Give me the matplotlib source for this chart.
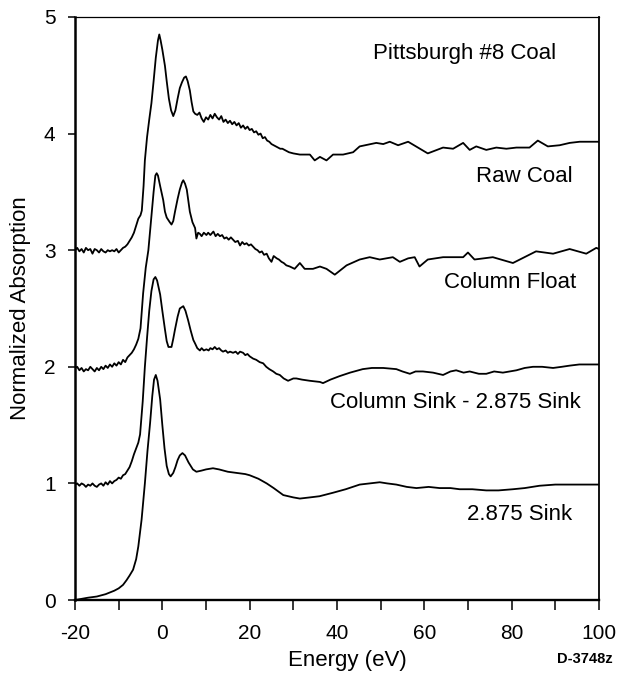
import matplotlib
matplotlib.use('Agg')
import matplotlib.pyplot as plt
from matplotlib.ticker import MultipleLocator

plt.rcParams['font.family'] = ['Liberation Sans', 'DejaVu Sans']
plt.rcParams['axes.unicode_minus'] = False

# Raw Coal (offset +3)
raw_x = [-20, -19.5, -19, -18.5, -18, -17.5, -17, -16.5, -16, -15.5, -15, -14.5, -14, -13.5,
         -13, -12.5, -12, -11.5, -11, -10.5, -10, -9.5, -9, -8.5, -8, -7.5, -7, -6.5, -6,
         -5.5, -5, -4.7, -4.3, -4.0, -3.5, -3.0, -2.5, -2.0, -1.5, -1.0, -0.7, -0.4, 0.0,
         0.6, 1.0, 1.5, 2.0, 2.5, 3.0, 3.5, 4.0, 4.5, 5.0, 5.4, 5.8, 6.3, 6.7, 7.1, 7.5,
         8.0, 8.5, 9.0, 9.5, 10.0, 10.5, 11.0, 11.5, 12.0, 12.5, 13.0, 13.5, 14.0, 14.5,
         15.0, 15.5, 16.0, 16.5, 17.0, 17.5, 18.0, 18.5, 19.0, 19.5, 20.0, 20.5, 21.0,
         21.5, 22.0, 22.5, 23.0, 23.5, 24.0, 24.5, 25.0, 25.5, 26.0, 26.5, 27.0, 27.5,
         28.0, 28.5, 29.0, 30.0, 31.5, 33.8, 34.9, 36.1, 37.6, 39.1, 41.4, 43.7, 45.2,
         49.0, 50.6, 52.1, 54.0, 56.3, 60.8, 64.3, 66.6, 68.9, 70.4, 71.9, 74.2, 76.5,
         78.8, 81.1, 84.1, 86.0, 88.3, 91.0, 93.3, 95.6, 97.8, 100]
raw_y = [3.00, 3.02, 2.99, 3.01, 2.98, 3.02, 3.00, 3.01, 2.97, 3.01, 3.00, 2.98, 3.01, 2.99,
         2.98, 3.00, 2.99, 3.00, 2.99, 3.01, 2.98, 3.00, 3.02, 3.03, 3.05, 3.08, 3.11, 3.15,
         3.21, 3.27, 3.30, 3.34, 3.55, 3.77, 3.97, 4.12, 4.26, 4.45, 4.65, 4.80, 4.85, 4.80,
         4.72, 4.58, 4.45, 4.30, 4.20, 4.15, 4.20, 4.30, 4.39, 4.44, 4.48, 4.49, 4.45, 4.37,
         4.27, 4.19, 4.17, 4.16, 4.18, 4.13, 4.10, 4.14, 4.12, 4.16, 4.13, 4.17, 4.14, 4.12,
         4.15, 4.10, 4.12, 4.09, 4.11, 4.08, 4.10, 4.07, 4.09, 4.05, 4.07, 4.04, 4.06, 4.03,
         4.04, 4.01, 4.02, 3.99, 4.00, 3.96, 3.97, 3.94, 3.93, 3.91, 3.90, 3.89, 3.88, 3.87,
         3.87, 3.86, 3.85, 3.84, 3.83, 3.82, 3.82, 3.77, 3.80, 3.77, 3.82, 3.82, 3.84, 3.89,
         3.92, 3.91, 3.93, 3.90, 3.93, 3.83, 3.88, 3.87, 3.92, 3.86, 3.89, 3.86, 3.88, 3.87,
         3.88, 3.88, 3.94, 3.89, 3.90, 3.92, 3.93, 3.93, 3.93]

# Column Float (offset +2)
float_x = [-20, -19.5, -19, -18.5, -18, -17.5, -17, -16.5, -16, -15.5, -15, -14.5, -14,
           -13.5, -13, -12.5, -12, -11.5, -11, -10.5, -10, -9.5, -9, -8.5, -8, -7.5, -7,
           -6.5, -6, -5.5, -5, -4.4, -3.8, -3.2, -2.6, -2.0, -1.6, -1.3, -1.0, -0.5, 0.2,
           0.6, 1.0, 1.35, 1.7, 2.1, 2.5, 2.9, 3.5, 4.0, 4.5, 4.8, 5.2, 5.6, 6.3, 6.9, 7.5,
           7.8, 8.2, 8.6, 9.0, 9.5, 10.1, 10.5, 11.0, 11.7, 12.2, 12.7, 13.2, 13.7, 14.2,
           14.7, 15.2, 15.7, 16.2, 16.7, 17.3, 17.8, 18.3, 18.8, 19.3, 19.8, 20.3, 20.8,
           21.3, 21.8, 22.3, 22.8, 23.3, 23.9, 24.4, 25.0, 25.5, 26.2, 26.7, 27.3, 27.8,
           28.4, 29.2, 30.3, 31.5, 32.6, 34.5, 36.1, 37.6, 39.5, 42.2, 45.2, 47.5, 49.8,
           52.8, 54.4, 56.3, 57.8, 58.9, 60.8, 64.3, 68.9, 70.0, 71.5, 75.7, 80.3, 85.6,
           89.5, 93.3, 97.1, 99.4, 100]
float_y = [1.99, 2.00, 1.97, 1.99, 1.96, 1.98, 1.97, 2.00, 1.98, 1.96, 1.99, 1.97, 2.00,
           1.98, 2.01, 1.99, 2.02, 2.00, 2.03, 2.01, 2.04, 2.02, 2.06, 2.04, 2.08, 2.10,
           2.12, 2.15, 2.19, 2.24, 2.33, 2.63, 2.85, 3.00, 3.25, 3.50, 3.64, 3.66, 3.64,
           3.55, 3.43, 3.33, 3.28, 3.26, 3.24, 3.22, 3.25, 3.33, 3.44, 3.52, 3.58, 3.60,
           3.57, 3.52, 3.33, 3.24, 3.19, 3.10, 3.15, 3.14, 3.12, 3.15, 3.13, 3.15, 3.13,
           3.16, 3.12, 3.14, 3.12, 3.13, 3.10, 3.11, 3.09, 3.11, 3.09, 3.07, 3.08, 3.04,
           3.07, 3.05, 3.06, 3.04, 3.05, 3.03, 3.01, 3.00, 2.98, 2.99, 2.96, 2.97, 2.93,
           2.90, 2.95, 2.93, 2.92, 2.90, 2.89, 2.87, 2.86, 2.84, 2.89, 2.84, 2.84, 2.86,
           2.84, 2.79, 2.87, 2.92, 2.94, 2.92, 2.94, 2.90, 2.93, 2.94, 2.86, 2.92, 2.94,
           2.94, 2.98, 2.92, 2.94, 2.89, 2.99, 2.97, 3.01, 2.97, 3.02, 3.01]

# Column Sink - 2.875 Sink (offset +1)
csink_x = [-20, -19.5, -19, -18.5, -18, -17.5, -17, -16.5, -16, -15.5, -15, -14.5, -14,
           -13.5, -13, -12.5, -12, -11.5, -11, -10.5, -10, -9.5, -9, -8.5, -8, -7.5, -7,
           -6.5, -6, -5.5, -5.1, -4.5, -4.0, -3.5, -3.0, -2.5, -2.0, -1.6, -1.2, -0.5, 0.0,
           0.6, 1.0, 1.4, 2.1, 2.5, 2.9, 3.5, 4.0, 4.8, 5.3, 5.9, 6.5, 7.1, 7.5, 8.0, 8.6,
           9.0, 9.5, 10.1, 10.6, 11.0, 11.5, 12.0, 12.5, 13.0, 13.5, 13.9, 14.5, 15.0, 15.5,
           16.2, 16.8, 17.3, 17.8, 18.5, 19.0, 19.5, 20.0, 20.8, 21.5, 22.3, 23.1, 23.8,
           24.5, 25.4, 26.1, 26.9, 27.8, 28.8, 30.0, 30.7, 32.0, 33.8, 36.1, 36.8, 38.5,
           40.6, 43.0, 45.9, 48.0, 50.6, 53.6, 55.0, 56.7, 58.0, 59.7, 62.0, 64.3, 66.0,
           67.3, 69.0, 70.4, 72.5, 74.2, 76.0, 78.0, 81.1, 83.0, 84.9, 87.0, 89.5, 91.5,
           93.3, 95.5, 97.8, 100]
csink_y = [0.99, 1.00, 0.98, 1.00, 0.99, 0.97, 0.99, 0.98, 1.00, 0.98, 0.97, 0.99, 1.00,
           0.98, 1.01, 0.99, 1.02, 1.00, 1.02, 1.03, 1.05, 1.04, 1.07, 1.08, 1.11, 1.14,
           1.19, 1.25, 1.30, 1.35, 1.42, 1.70, 2.00, 2.25, 2.48, 2.65, 2.75, 2.77, 2.74,
           2.62, 2.48, 2.32, 2.22, 2.17, 2.17, 2.24, 2.32, 2.43, 2.50, 2.52, 2.48, 2.40,
           2.31, 2.23, 2.20, 2.16, 2.14, 2.16, 2.14, 2.15, 2.14, 2.16, 2.15, 2.17, 2.15,
           2.16, 2.14, 2.13, 2.14, 2.12, 2.13, 2.12, 2.13, 2.11, 2.13, 2.12, 2.10, 2.11,
           2.09, 2.07, 2.06, 2.04, 2.03, 2.00, 1.98, 1.96, 1.94, 1.93, 1.90, 1.88, 1.90,
           1.90, 1.89, 1.88, 1.87, 1.86, 1.89, 1.92, 1.95, 1.98, 1.99, 1.99, 1.98, 1.96,
           1.94, 1.96, 1.96, 1.95, 1.93, 1.96, 1.97, 1.95, 1.96, 1.94, 1.94, 1.96, 1.95,
           1.97, 1.99, 2.00, 2.00, 1.99, 2.00, 2.01, 2.02, 2.02, 2.02]

# 2.875 Sink (no offset)
sink_x = [-20, -17, -15, -13, -11, -10, -9, -8.2, -7.5, -6.7, -6.0, -5.5, -4.75, -4.0,
          -3.4, -2.8, -2.3, -1.9, -1.5, -1.1, -0.5, 0.0, 0.5, 1.0, 1.5, 1.9, 2.5, 3.0,
          3.5, 4.0, 4.6, 5.2, 6.0, 7.0, 7.8, 9.0, 10.0, 11.6, 13.0, 15.0, 17.0, 19.0,
          20.0, 22.0, 23.9, 25.5, 27.7, 30.0, 31.5, 33.8, 36.0, 39.1, 42.0, 45.2, 47.5,
          49.8, 51.5, 53.6, 56.0, 58.2, 61.0, 63.5, 66.0, 68.1, 71.0, 74.2, 77.0, 80.3,
          83.0, 86.4, 90.0, 94.0, 97.0, 100]
sink_y = [0.00, 0.02, 0.03, 0.05, 0.08, 0.10, 0.13, 0.17, 0.21, 0.26, 0.35, 0.46, 0.69,
          1.00, 1.28, 1.52, 1.75, 1.89, 1.93, 1.88, 1.72, 1.50, 1.30, 1.15, 1.08, 1.06,
          1.09, 1.14, 1.20, 1.24, 1.26, 1.24, 1.18, 1.12, 1.10, 1.11, 1.12, 1.13, 1.12,
          1.10, 1.09, 1.08, 1.07, 1.04, 1.00, 0.96, 0.90, 0.88, 0.87, 0.88, 0.89, 0.92,
          0.95, 0.99, 1.00, 1.01, 1.00, 0.99, 0.97, 0.96, 0.97, 0.96, 0.96, 0.95, 0.95,
          0.94, 0.94, 0.95, 0.96, 0.98, 0.99, 0.99, 0.99, 0.99]

labels = ['Raw Coal', 'Column Float', 'Column Sink - 2.875 Sink', '2.875 Sink']
label_pos = [(83.0, 3.63), (79.7, 2.72), (67.1, 1.69), (81.8, 0.73)]

fig = plt.figure(figsize=(6.2, 6.76), dpi=100)
ax = fig.add_axes([0.121, 0.1124, 0.845, 0.8625])

for xs, ys in [(raw_x, raw_y), (float_x, float_y), (csink_x, csink_y), (sink_x, sink_y)]:
    ax.plot(xs, ys, color='black', lw=1.3)

for lab, (lx, ly) in zip(labels, label_pos):
    ax.text(lx, ly, lab, ha='center', va='center', fontsize=16)
ax.text(69.2, 4.69, 'Pittsburgh #8 Coal', ha='center', va='center', fontsize=16)

ax.set_xlim(-20, 100)
ax.set_ylim(0, 5)
ax.xaxis.set_major_locator(MultipleLocator(20))
ax.xaxis.set_minor_locator(MultipleLocator(10))
ax.yaxis.set_major_locator(MultipleLocator(1))
ax.tick_params(axis='x', which='both', direction='out', length=7, width=1.1,
               labelsize=15, pad=10)
ax.tick_params(axis='y', direction='out', length=5, width=1.1, labelsize=15, pad=9)

ax.spines['left'].set_linewidth(1.8)
ax.spines['bottom'].set_linewidth(1.7)
ax.spines['top'].set_linewidth(0.9)
ax.spines['right'].set_linewidth(1.3)

ax.set_ylabel('Normalized Absorption', fontsize=16, labelpad=9)
ax.set_xlabel('Energy (eV)', fontsize=16)
ax.xaxis.set_label_coords(0.52, -0.085)
fig.text(0.988, 0.015, 'D-3748z', ha='right', va='bottom', fontsize=10.5,
         fontweight='bold')

fig.savefig('out.png', dpi=100)
